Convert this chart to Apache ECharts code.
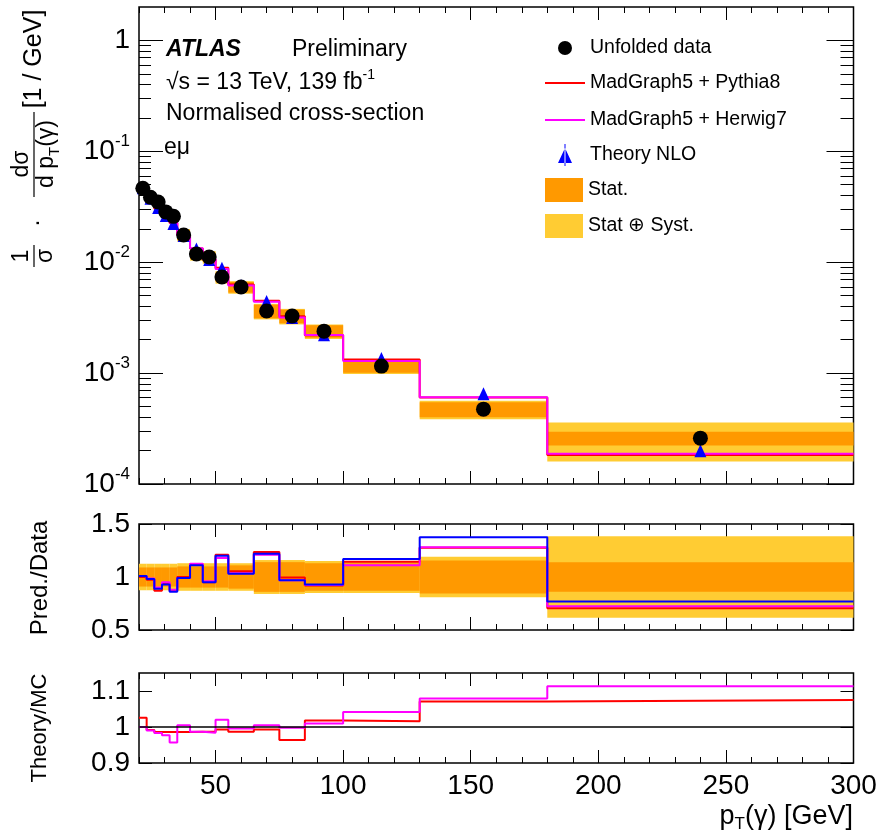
<!DOCTYPE html>
<html><head><meta charset="utf-8">
<script src="https://cdn.jsdelivr.net/npm/echarts@6/dist/echarts.min.js"></script>
<style>html,body{margin:0;padding:0;background:#fff}#c{width:883px;height:839px}</style>
</head><body><div id="c"></div>
<script>
// ---------------- data ----------------
const binEdges = [20, 23, 26, 29, 32, 35, 40, 45, 50, 55, 65, 75, 85, 100, 130, 180, 300];
const dataVals = [0.0464, 0.0385, 0.0349, 0.0284, 0.0259, 0.0176, 0.01186, 0.01114, 0.00735, 0.00597, 0.00363, 0.00327, 0.00239, 0.001156, 0.000473, 0.000259];
// prediction / data
const nloRatio    = [1.01, 0.98, 0.89, 0.93, 0.86, 0.99, 1.11, 0.95, 1.20, 1.03, 1.22, 0.97, 0.93, 1.17, 1.375, 0.77];
const pythiaRatio = [1.00, 0.975, 0.87, 0.94, 0.87, 1.00, 1.12, 0.95, 1.21, 1.055, 1.235, 0.995, 0.92, 1.145, 1.275, 0.705];
const herwigRatio = [1.01, 0.985, 0.90, 0.95, 0.88, 0.99, 1.125, 0.96, 1.18, 1.035, 1.21, 0.97, 0.925, 1.11, 1.28, 0.725];
// relative uncertainties
const statErr = [0.09, 0.09, 0.09, 0.09, 0.09, 0.10, 0.10, 0.10, 0.10, 0.11, 0.14, 0.14, 0.13, 0.13, 0.155, 0.14];
const totErr  = [0.125, 0.125, 0.125, 0.125, 0.125, 0.13, 0.13, 0.13, 0.13, 0.13, 0.16, 0.16, 0.15, 0.15, 0.19, 0.385];
// theory / MC
const tmPythia = [1.026, 0.992, 0.986, 0.986, 0.986, 0.986, 0.987, 0.987, 0.993, 0.987, 0.993, 0.964, 1.018, 1.016, 1.071, 1.075];
const tmHerwig = [1.0, 0.99, 0.983, 0.977, 0.957, 1.005, 0.987, 0.984, 1.02, 0.996, 1.005, 0.998, 1.01, 1.042, 1.079, 1.113];
// ticks
const xMajorTicks = [50, 100, 150, 200, 250, 300];
const logMajorTicks = [1e-4, 1e-3, 1e-2, 1e-1, 1];
const ratioTicks = [0.5, 1, 1.5];
const tmTicks = [0.9, 1.0, 1.1];

// ---------------- helpers ----------------
const FF = "'Liberation Sans', Arial, Helvetica, sans-serif";
const logMinorTicks = [];
for (let e = -4; e < 0; e++) for (let m = 2; m <= 9; m++) logMinorTicks.push(m * Math.pow(10, e));
const centers = binEdges.slice(0, -1).map((e, i) => (e + binEdges[i + 1]) / 2);
function stepPts(vals) {
  const pts = [];
  vals.forEach((v, i) => { pts.push([binEdges[i], v]); pts.push([binEdges[i + 1], v]); });
  return pts;
}
function bandRows(center, err) {
  return center.map((c, i) => [binEdges[i], binEdges[i + 1], c * (1 - err[i]), c * (1 + err[i])]);
}
function rectRender(color) {
  return function (params, api) {
    const a = api.coord([api.value(0), api.value(3)]);
    const b = api.coord([api.value(1), api.value(2)]);
    return { type: 'rect', shape: { x: a[0], y: a[1], width: b[0] - a[0], height: b[1] - a[1] }, style: { fill: color } };
  };
}
const ones = dataVals.map(() => 1);
const pythiaPred = dataVals.map((d, i) => d * pythiaRatio[i]);
const herwigPred = dataVals.map((d, i) => d * herwigRatio[i]);
const nloPred = dataVals.map((d, i) => d * nloRatio[i]);

const C_STAT = '#ff9900', C_TOT = '#ffcc33', C_RED = '#ff0000', C_MAG = '#ff00ff', C_BLUE = '#0000ff';

// ---------------- layout ----------------
const L = 139, W = 714.5;
const panels = [
  { top: 7, height: 477 },
  { top: 524, height: 106 },
  { top: 673, height: 90 }
];
const grids = [];
panels.forEach(p => {
  grids.push({ left: L, top: p.top, width: W, height: p.height, show: true, borderColor: '#000', borderWidth: 1.5, backgroundColor: 'transparent', containLabel: false });
  grids.push({ left: L, top: p.top, width: W, height: p.height, show: false, containLabel: false });
});
const tickLine = { color: '#000', width: 1 };
const xAxes = [];
for (let g = 0; g < 6; g++) {
  const isMain = g % 2 === 0;
  ['bottom', 'top'].forEach(pos => {
    const ax = { gridIndex: g, type: 'value', min: 20, max: 300, position: pos,
      axisLine: { show: false }, splitLine: { show: false } };
    if (isMain) {
      ax.axisTick = { show: true, inside: true, length: 13, customValues: xMajorTicks, lineStyle: tickLine };
      ax.axisLabel = { show: g === 4 && pos === 'bottom', customValues: xMajorTicks, fontSize: 28, margin: 9, color: '#000', fontFamily: FF };
    } else {
      ax.interval = 10;
      ax.axisTick = { show: true, inside: true, length: 6, lineStyle: tickLine };
      ax.axisLabel = { show: false };
    }
    xAxes.push(ax);
  });
}
const yAxes = [];
// panel 0 main (log)
['left', 'right'].forEach(pos => {
  yAxes.push({ gridIndex: 0, type: 'log', logBase: 10, min: 1e-4, max: 2, position: pos,
    axisLine: { show: false }, splitLine: { show: false },
    axisTick: { show: true, inside: true, length: pos === 'left' ? 24 : 27, customValues: logMajorTicks, lineStyle: tickLine },
    axisLabel: { show: pos === 'left', customValues: logMajorTicks, margin: 9, color: '#000', fontFamily: FF, fontSize: 28, lineHeight: 36,
      formatter: v => { const e = Math.round(Math.log10(v)); return e === 0 ? '1' : '10{sup|' + e + '}'; },
      rich: { sup: { fontSize: 17, lineHeight: 17, verticalAlign: 'top', color: '#000', fontFamily: FF } } } });
});
// panel 0 minor
['left', 'right'].forEach(pos => {
  yAxes.push({ gridIndex: 1, type: 'log', logBase: 10, min: 1e-4, max: 2, position: pos,
    axisLine: { show: false }, splitLine: { show: false },
    axisTick: { show: true, inside: true, length: pos === 'left' ? 12 : 13, customValues: logMinorTicks, lineStyle: tickLine },
    axisLabel: { show: false } });
});
// panel 1 main
['left', 'right'].forEach(pos => {
  yAxes.push({ gridIndex: 2, type: 'value', min: 0.5, max: 1.5, position: pos,
    axisLine: { show: false }, splitLine: { show: false },
    axisTick: { show: true, inside: true, length: 13, customValues: ratioTicks, lineStyle: tickLine },
    axisLabel: { show: pos === 'left', customValues: ratioTicks, margin: 9, color: '#000', fontFamily: FF, fontSize: 28,
      formatter: v => String(Math.round(v * 10) / 10) } });
});
['left', 'right'].forEach(pos => {
  yAxes.push({ gridIndex: 3, type: 'value', min: 0.5, max: 1.5, position: pos, axisLine: { show: false }, splitLine: { show: false }, axisTick: { show: false }, axisLabel: { show: false } });
});
// panel 2 main
['left', 'right'].forEach(pos => {
  yAxes.push({ gridIndex: 4, type: 'value', min: 0.9, max: 1.15, position: pos,
    axisLine: { show: false }, splitLine: { show: false },
    axisTick: { show: true, inside: true, length: 13, customValues: tmTicks, lineStyle: tickLine },
    axisLabel: { show: pos === 'left', customValues: tmTicks, margin: 9, color: '#000', fontFamily: FF, fontSize: 28,
      formatter: v => String(Math.round(v * 10) / 10) } });
});
['left', 'right'].forEach(pos => {
  yAxes.push({ gridIndex: 5, type: 'value', min: 0.9, max: 1.15, position: pos, axisLine: { show: false }, splitLine: { show: false }, axisTick: { show: false }, axisLabel: { show: false } });
});

function stepSeries(name, vals, color, xi, yi, z) {
  return { name, type: 'line', xAxisIndex: xi, yAxisIndex: yi, data: stepPts(vals), symbol: 'none', showSymbol: false,
    lineStyle: { color, width: 2 }, itemStyle: { color }, z, silent: true, animation: false };
}
function bandSeries(name, rows, color, xi, yi, z) {
  return { name, type: 'custom', xAxisIndex: xi, yAxisIndex: yi, data: rows, encode: { x: [0, 1], y: [2, 3] },
    renderItem: rectRender(color), itemStyle: { color }, z, silent: true, animation: false };
}

const series = [
  // top panel
  bandSeries('Stat ⊕ Syst.', bandRows(dataVals, totErr), C_TOT, 0, 0, 1),
  bandSeries('Stat.', bandRows(dataVals, statErr), C_STAT, 0, 0, 1.1),
  stepSeries('MadGraph5 + Pythia8', pythiaPred, C_RED, 0, 0, 2),
  stepSeries('MadGraph5 + Herwig7', herwigPred, C_MAG, 0, 0, 2.1),
  { name: 'Theory NLO', type: 'scatter', xAxisIndex: 0, yAxisIndex: 0, data: centers.map((c, i) => [c, nloPred[i]]),
    symbol: 'triangle', symbolSize: [12, 13], itemStyle: { color: C_BLUE, opacity: 1 }, z: 3, silent: true, animation: false },
  { name: 'Unfolded data', type: 'scatter', xAxisIndex: 0, yAxisIndex: 0, data: centers.map((c, i) => [c, dataVals[i]]),
    symbol: 'circle', symbolSize: 15, itemStyle: { color: '#000', opacity: 1 }, z: 4, silent: true, animation: false },
  // ratio panel
  bandSeries('r_tot', bandRows(ones, totErr), C_TOT, 4, 4, 1),
  bandSeries('r_stat', bandRows(ones, statErr), C_STAT, 4, 4, 1.1),
  stepSeries('r_pythia', pythiaRatio, C_RED, 4, 4, 2),
  stepSeries('r_herwig', herwigRatio, C_MAG, 4, 4, 2.1),
  stepSeries('r_nlo', nloRatio, C_BLUE, 4, 4, 2.2),
  // theory / MC panel
  stepSeries('t_pythia', tmPythia, C_RED, 8, 8, 2),
  stepSeries('t_herwig', tmHerwig, C_MAG, 8, 8, 2.1),
  { name: 't_unity', type: 'line', xAxisIndex: 8, yAxisIndex: 8, data: [[20, 1], [300, 1]], symbol: 'none',
    lineStyle: { color: '#000', width: 1.5 }, z: 3, silent: true, animation: false }
];

const legText = { fontSize: 19.5, fontFamily: FF, color: '#000', lineHeight: 22 };
const triIcon = 'path://M0,0M40,22M19.5,0L20.5,0L20.5,22L19.5,22ZM13,19L27,19L20,4Z';
const legends = [
  { data: [{ name: 'Unfolded data', icon: 'circle' }], left: 558, top: 37, orient: 'vertical', itemWidth: 40, itemHeight: 14, padding: 0, selectedMode: false, textStyle: legText, itemStyle: { opacity: 1 } },
  { data: [{ name: 'MadGraph5 + Pythia8', icon: 'rect' }, { name: 'MadGraph5 + Herwig7', icon: 'rect' }], left: 545, top: 72, orient: 'vertical', itemWidth: 40, itemHeight: 2, itemGap: 15, padding: 0, selectedMode: false, textStyle: legText },
  { data: [{ name: 'Theory NLO', icon: triIcon }], left: 545, top: 144, orient: 'vertical', itemWidth: 40, itemHeight: 22, padding: 0, selectedMode: false, textStyle: legText, itemStyle: { opacity: 1 } },
  { data: [{ name: 'Stat.', icon: 'rect' }, { name: 'Stat ⊕ Syst.', icon: 'rect' }], left: 545, top: 178, orient: 'vertical', itemWidth: 38, itemHeight: 24, itemGap: 12, padding: 0, selectedMode: false, textStyle: legText }
];

function txt(x, y, text, size, extra) {
  return Object.assign({ type: 'text', x, y, silent: true, style: Object.assign({ text, fontSize: size, fontFamily: FF, fill: '#000', align: 'left', verticalAlign: 'middle', textAlign: 'left', textVerticalAlign: 'middle' }, extra || {}) });
}
function vtxt(x, y, text, size, extraStyle) {
  const t = txt(x, y, text, size, Object.assign({ align: 'center', textAlign: 'center' }, extraStyle || {}));
  t.rotation = Math.PI / 2;
  return t;
}
const graphic = [
  txt(166, 50, 'ATLAS', 23, { fontWeight: 'bold', fontStyle: 'italic' }),
  txt(292, 50, 'Preliminary', 23),
  txt(166, 83, '√s = 13 TeV, 139 fb{sup|-1}', 23, { lineHeight: 30, rich: { sup: { fontSize: 14, lineHeight: 14, verticalAlign: 'top', fontFamily: FF, fill: '#000' } } }),
  txt(166, 114, 'Normalised cross-section', 23),
  txt(164, 148, 'eμ', 23),
  // y title top panel
  vtxt(22, 256, '1', 23),
  { type: 'line', silent: true, shape: { x1: 34, y1: 245, x2: 34, y2: 267 }, style: { stroke: '#000', lineWidth: 1.2 } },
  vtxt(46, 256, 'σ', 23),
  vtxt(37, 223, '·', 24),
  vtxt(22, 164, 'dσ', 23),
  { type: 'line', silent: true, shape: { x1: 34, y1: 112, x2: 34, y2: 197 }, style: { stroke: '#000', lineWidth: 1.2 } },
  vtxt(47, 154, 'd p{sub|T}(γ)', 23, { lineHeight: 30, rich: { sub: { fontSize: 15, lineHeight: 15, verticalAlign: 'bottom', fontFamily: FF, fill: '#000' } } }),
  vtxt(34, 59, '[1 / GeV]', 25),
  // ratio titles
  vtxt(40, 578, 'Pred./Data', 24),
  vtxt(40, 728, 'Theory/MC', 22),
  // x title
  txt(853, 817, 'p{sub|T}(γ) [GeV]', 27, { align: 'right', textAlign: 'right', lineHeight: 32, rich: { sub: { fontSize: 17, lineHeight: 17, verticalAlign: 'bottom', fontFamily: FF, fill: '#000' } } })
];

const chart = echarts.init(document.getElementById('c'), null, { renderer: 'canvas' });
chart.setOption({
  animation: false,
  backgroundColor: '#fff',
  textStyle: { fontFamily: FF },
  grid: grids, xAxis: xAxes, yAxis: yAxes, series, legend: legends, graphic
});
</script></body></html>
